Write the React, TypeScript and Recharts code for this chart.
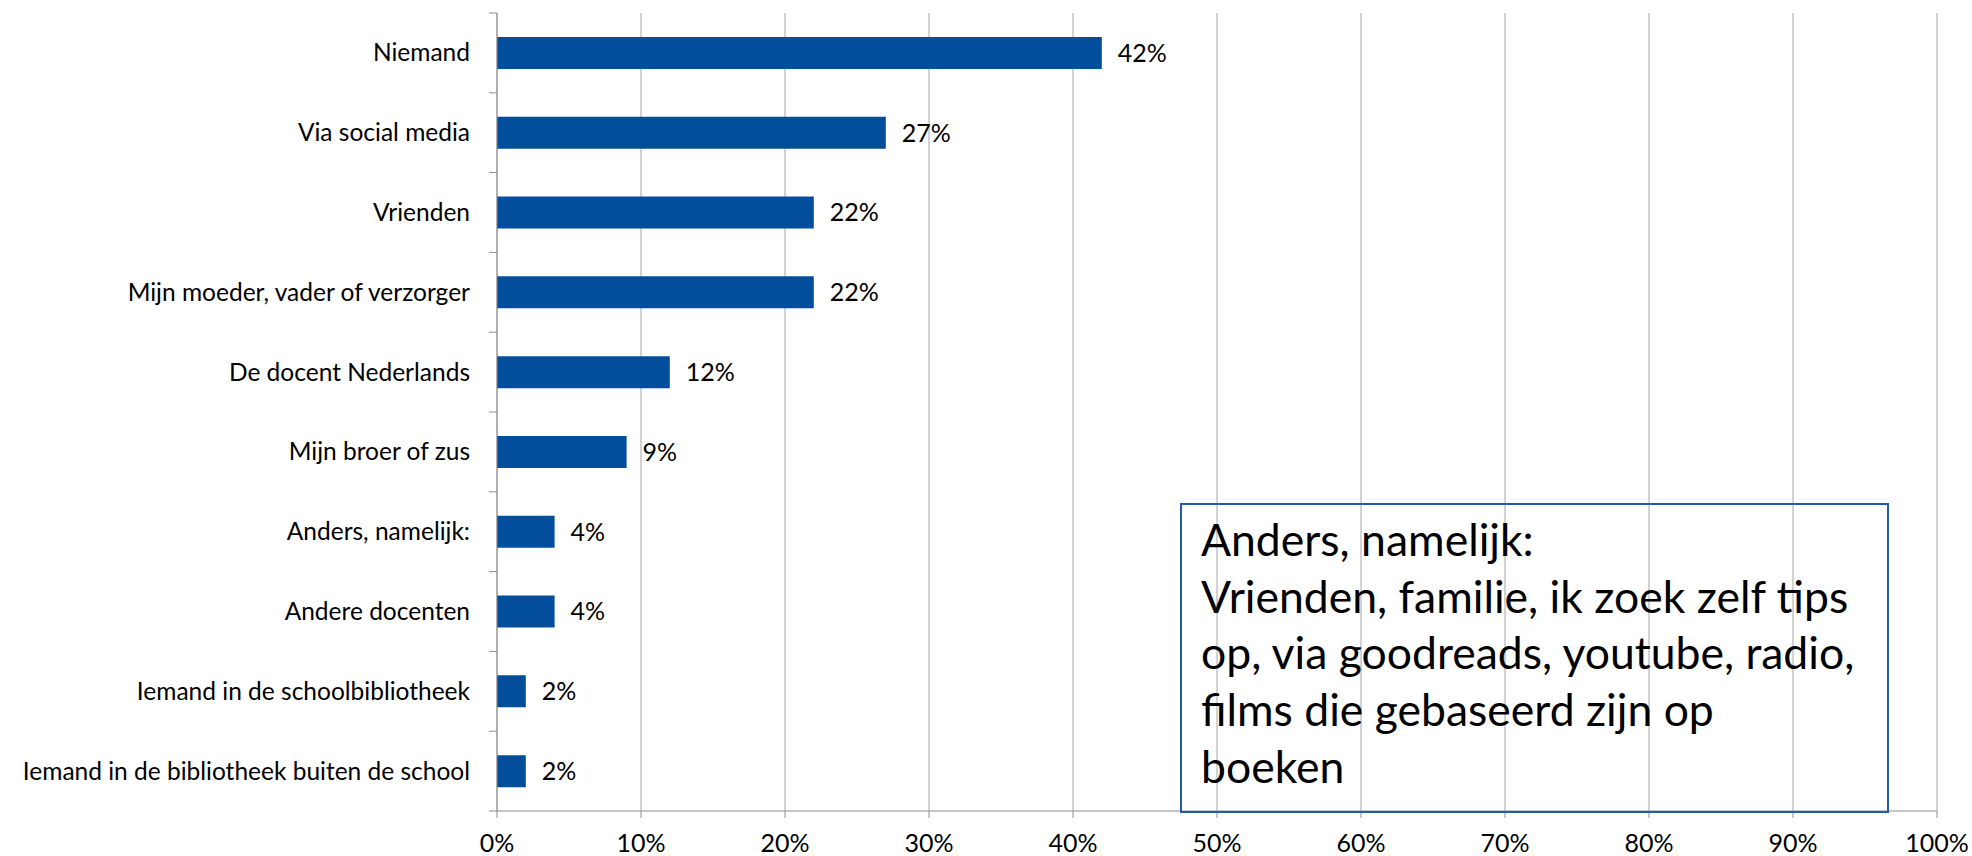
import React from 'react'
import { BarChart, Bar, XAxis, YAxis, CartesianGrid, LabelList } from 'recharts'

const categories = [
  'Niemand',
  'Via social media',
  'Vrienden',
  'Mijn moeder, vader of verzorger',
  'De docent Nederlands',
  'Mijn broer of zus',
  'Anders, namelijk:',
  'Andere docenten',
  'Iemand in de schoolbibliotheek',
  'Iemand in de bibliotheek buiten de school',
]

const shares = [0.42, 0.27, 0.22, 0.22, 0.12, 0.09, 0.04, 0.04, 0.02, 0.02]

const xTicks = [0, 0.1, 0.2, 0.3, 0.4, 0.5, 0.6, 0.7, 0.8, 0.9, 1]

const noteLines = [
  'Anders, namelijk:',
  'Vrienden, familie, ik zoek zelf tips',
  'op, via goodreads, youtube, radio,',
  'films die gebaseerd zijn op',
  'boeken',
]

const data = categories.map((name, i) => ({ name, value: shares[i] }))

const FONT = 'Lato, "Noto Sans", sans-serif'
const W = 1972
const H = 856
const TOP = 13
const XAXIS_H = 45
const AXIS_GRAY = '#8c8c8c'
const GRID_GRAY = '#a6a6a6'
const BAR_BLUE = '#024e9c'

const pct = (v: number) => `${Math.round(v * 100)}%`

// category label + tick marks on the band boundaries (like Excel)
const CategoryTick = (props: any) => {
  const { x, y, payload, index } = props
  const band = (H - TOP - XAXIS_H) / categories.length
  const axisX = x + 8 + 19
  return (
    <g>
      <line x1={axisX - 8} x2={axisX} y1={y - band / 2} y2={y - band / 2} stroke={AXIS_GRAY} />
      {index === categories.length - 1 && (
        <line x1={axisX - 8} x2={axisX} y1={y + band / 2} y2={y + band / 2} stroke={AXIS_GRAY} />
      )}
      <text x={x} y={y} dy="0.35em" textAnchor="end" fontSize={24.5} fill="#000" fontFamily={FONT}>
        {payload.value}
      </text>
    </g>
  )
}

export default function App() {
  return (
    <div style={{ position: 'absolute', left: 0, top: 0, width: W, height: H, background: '#fff' }}>
      <BarChart
        width={W}
        height={H}
        data={data}
        layout="vertical"
        barCategoryGap="30%"
        margin={{ top: TOP, right: 35, left: 0, bottom: 0 }}
      >
        <CartesianGrid horizontal={false} stroke={GRID_GRAY} />
        <XAxis
          type="number"
          domain={[0, 1]}
          ticks={xTicks}
          tickFormatter={pct}
          height={XAXIS_H}
          tickSize={7}
          tickMargin={16}
          interval={0}
          axisLine={{ stroke: AXIS_GRAY }}
          tickLine={{ stroke: AXIS_GRAY }}
          tick={{ fontSize: 25, fill: '#000', fontFamily: FONT }}
        />
        <YAxis
          type="category"
          dataKey="name"
          width={497}
          tickSize={8}
          tickMargin={19}
          interval={0}
          axisLine={{ stroke: AXIS_GRAY }}
          tickLine={false}
          tick={<CategoryTick />}
        />
        <Bar dataKey="value" fill={BAR_BLUE} isAnimationActive={false}>
          <LabelList
            dataKey="value"
            position="right"
            offset={16}
            formatter={(v: number) => pct(v)}
            style={{ fontSize: 25, fill: '#000', fontFamily: FONT }}
          />
        </Bar>
      </BarChart>
      <div
        style={{
          position: 'absolute',
          left: 1180,
          top: 503,
          width: 709,
          height: 310,
          boxSizing: 'border-box',
          border: '2px solid #1f5dab',
          padding: '6px 0 0 19px',
          fontFamily: FONT,
          fontSize: 44.5,
          lineHeight: '56.7px',
          color: '#000',
          whiteSpace: 'nowrap',
        }}
      >
        {noteLines.map((l, i) => (
          <div key={i}>{l}</div>
        ))}
      </div>
    </div>
  )
}
